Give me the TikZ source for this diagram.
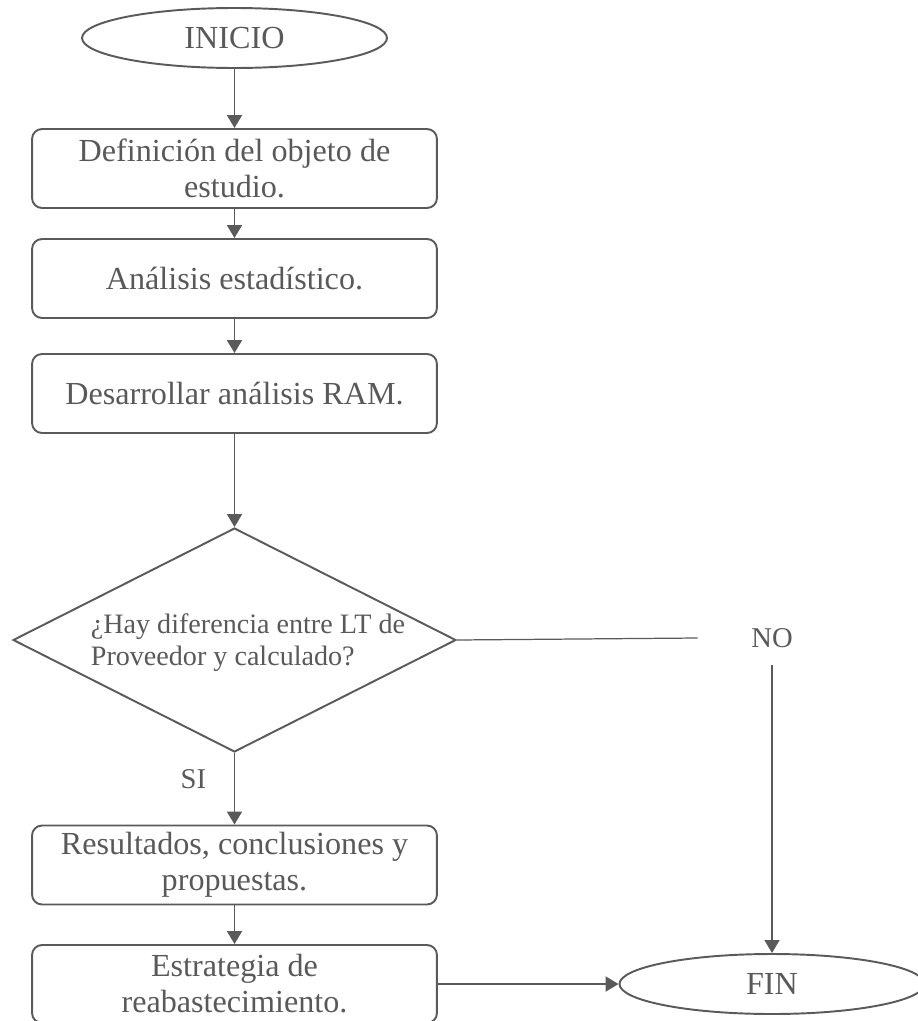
\documentclass[tikz,border=0pt]{standalone}
\usepackage{fontspec}
\setmainfont{Liberation Serif}
\usepackage{xcolor}
\usetikzlibrary{shapes.geometric, arrows.meta}
\definecolor{line-gray}{HTML}{5A5A5A}
\definecolor{text-gray}{HTML}{595959}

\begin{document}
\begin{tikzpicture}[x=0.02cm, y=-0.02cm,
        every node/.style={font=\fontsize{18.3}{20.5}\selectfont, text=text-gray},
        box/.style={draw=line-gray, line width=1.1pt, rounded corners=0.2cm,
            minimum width=8.1cm, minimum height=1.58cm, align=center, inner sep=0pt},
        terminal/.style={draw=line-gray, line width=1.1pt, ellipse,
            minimum width=6.1cm, minimum height=1.2cm, inner sep=0pt},
        flow/.style={draw=line-gray, line width=1.1pt,
            -{Triangle[width=0.3cm, length=0.26cm]}}]
      \useasboundingbox (0,0) rectangle (917,1021);
      \node[terminal] (INI) at (234.5,38) {INICIO};
      \node[box] (DEF) at (234.5,168.5) {Definición del objeto de\\estudio.};
      \node[box] (ANA) at (234.5,278.5) {Análisis estadístico.};
      \node[box] (RAM) at (234.5,393.5) {Desarrollar análisis RAM.};
      \node[draw=line-gray, line width=1.1pt, diamond, inner sep=0pt,
            minimum width=8.86cm, minimum height=4.48cm] (DEC) at (234.5,640) {};
      \node[align=left, font=\fontsize{16}{18.2}\selectfont]
            (Q) at (248,643) {¿Hay diferencia entre LT de\\Proveedor y calculado?};
      \node[box] (RES) at (234.5,865) {Resultados, conclusiones y\\propuestas.};
      \node[box, minimum height=1.56cm] (EST) at (234.5,984) {Estrategia de\\reabastecimiento.};
      \node[terminal] (FIN) at (772,984) {FIN};
      \node[minimum width=2.96cm, minimum height=1.08cm, inner sep=0pt,
            font=\fontsize{16.3}{18}\selectfont] (NO) at (772,638) {NO};
      \draw[flow] (INI) -- (DEF);
      \draw[flow] (DEF) -- (ANA);
      \draw[flow] (ANA) -- (RAM);
      \draw[flow] (RAM) -- (DEC);
      \draw[flow] (DEC) -- (RES)
            node[pos=0.36, anchor=east, xshift=-0.55cm, inner sep=0pt,
                 font=\fontsize{16.3}{18}\selectfont] (SI) {SI};
      \draw[flow] (RES) -- (EST);
      \draw[line-gray, line width=0.7pt] (DEC.east) -- (NO.west);
      \draw[flow, line width=0.7pt] (NO.south) -- (FIN.north);
      \draw[flow] (EST.east) -- (FIN.west);
    \end{tikzpicture}
\end{document}
